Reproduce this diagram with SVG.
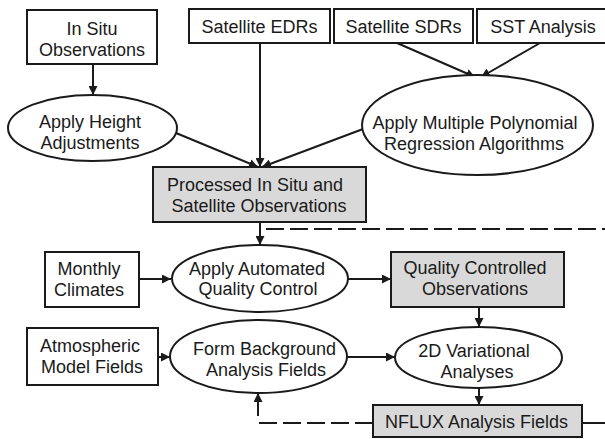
<svg xmlns="http://www.w3.org/2000/svg" width="605" height="439" viewBox="0 0 605 439">
  <defs>
    <marker id="arrow" viewBox="0 0 10 10" refX="10" refY="5" markerWidth="4.5" markerHeight="4.5" orient="auto" markerUnits="strokeWidth">
      <path d="M0,0 L10,5 L0,10 z" fill="#1a1a1a"/>
    </marker>
    <style>
      .box { fill: #ffffff; stroke: #1a1a1a; stroke-width: 2; }
      .shaded { fill: #d9d9d9; stroke: #1a1a1a; stroke-width: 2; }
      .oval { fill: #ffffff; stroke: #1a1a1a; stroke-width: 2; }
      .label { font-family: "Liberation Sans", Arial, sans-serif; font-size: 18px; fill: #1a1a1a; text-anchor: middle; }
      .link { fill: none; stroke: #1a1a1a; stroke-width: 2; }
      .arrowed { marker-end: url(#arrow); }
      .dashed { stroke-dasharray: 18 6; }
    </style>
  </defs>
  <rect width="605" height="439" fill="#ffffff"/>

  <g id="connectors">
    <path class="link arrowed" d="M93,64 V95"/>
    <path class="link arrowed" d="M260,43 V167"/>
    <path class="link arrowed" d="M176,133 L258,167"/>
    <path class="link arrowed" d="M363,129 L262,167"/>
    <path class="link arrowed" d="M397,43 L475,77"/>
    <path class="link arrowed" d="M540,43 L481,77"/>
    <path class="link arrowed" d="M260,222 V245"/>
    <path class="link dashed" stroke-dashoffset="18" d="M260,229 H605"/>
    <path class="link arrowed" d="M139,279 H171"/>
    <path class="link arrowed" d="M348,279 H391"/>
    <path class="link arrowed" d="M479,307 V327"/>
    <path class="link arrowed" d="M158,357 H170"/>
    <path class="link arrowed" d="M347,357 H395"/>
    <path class="link arrowed" d="M479,388 V405"/>
    <path class="link dashed" d="M373,423 H258"/>
    <path class="link arrowed" d="M258,416 V393"/>
    <path class="link" d="M582,423 H605"/>
  </g>

  <g id="in-situ-observations">
    <rect class="box" x="27" y="10" width="130" height="54"/>
    <text class="label" x="92" y="34.5">In Situ</text>
    <text class="label" x="92" y="56">Observations</text>
  </g>

  <g id="satellite-edrs">
    <rect class="box" x="189" y="9" width="141" height="34"/>
    <text class="label" x="259.5" y="33">Satellite EDRs</text>
  </g>

  <g id="satellite-sdrs">
    <rect class="box" x="334" y="9" width="139" height="34"/>
    <text class="label" x="403.5" y="33">Satellite SDRs</text>
  </g>

  <g id="sst-analysis">
    <rect class="box" x="477" y="9" width="135" height="34"/>
    <text class="label" x="543" y="33">SST Analysis</text>
  </g>

  <g id="apply-height-adjustments">
    <ellipse class="oval" cx="92.5" cy="128" rx="84.5" ry="33"/>
    <text class="label" x="90" y="128">Apply Height</text>
    <text class="label" x="90" y="149">Adjustments</text>
  </g>

  <g id="apply-polynomial-regression">
    <ellipse class="oval" cx="477.5" cy="125" rx="115.5" ry="50"/>
    <text class="label" x="475" y="129">Apply Multiple Polynomial</text>
    <text class="label" x="474" y="149.5">Regression Algorithms</text>
  </g>

  <g id="processed-observations">
    <rect class="shaded" x="153" y="167" width="213" height="55"/>
    <text class="label" x="255" y="191">Processed In Situ and</text>
    <text class="label" x="259" y="211.5">Satellite Observations</text>
  </g>

  <g id="monthly-climates">
    <rect class="box" x="45" y="252" width="94" height="55"/>
    <text class="label" x="89" y="275">Monthly</text>
    <text class="label" x="89" y="296">Climates</text>
  </g>

  <g id="apply-quality-control">
    <ellipse class="oval" cx="260" cy="278.5" rx="88" ry="33.5"/>
    <text class="label" x="257" y="275">Apply Automated</text>
    <text class="label" x="258" y="295">Quality Control</text>
  </g>

  <g id="quality-controlled-observations">
    <rect class="shaded" x="391" y="252" width="173" height="55"/>
    <text class="label" x="475" y="274">Quality Controlled</text>
    <text class="label" x="475" y="295">Observations</text>
  </g>

  <g id="atmospheric-model-fields">
    <rect class="box" x="27" y="328" width="131" height="57"/>
    <text class="label" x="90" y="351.5">Atmospheric</text>
    <text class="label" x="92" y="372.5">Model Fields</text>
  </g>

  <g id="form-background-fields">
    <ellipse class="oval" cx="258.5" cy="356.5" rx="88.5" ry="36.5"/>
    <text class="label" x="264.5" y="355">Form Background</text>
    <text class="label" x="266" y="376">Analysis Fields</text>
  </g>

  <g id="variational-analyses">
    <ellipse class="oval" cx="478.5" cy="357.5" rx="83.5" ry="30.5"/>
    <text class="label" x="474" y="356.5">2D Variational</text>
    <text class="label" x="477" y="377.5">Analyses</text>
  </g>

  <g id="nflux-analysis-fields">
    <rect class="shaded" x="373" y="405" width="209" height="32"/>
    <text class="label" x="476.5" y="428">NFLUX Analysis Fields</text>
  </g>
</svg>
